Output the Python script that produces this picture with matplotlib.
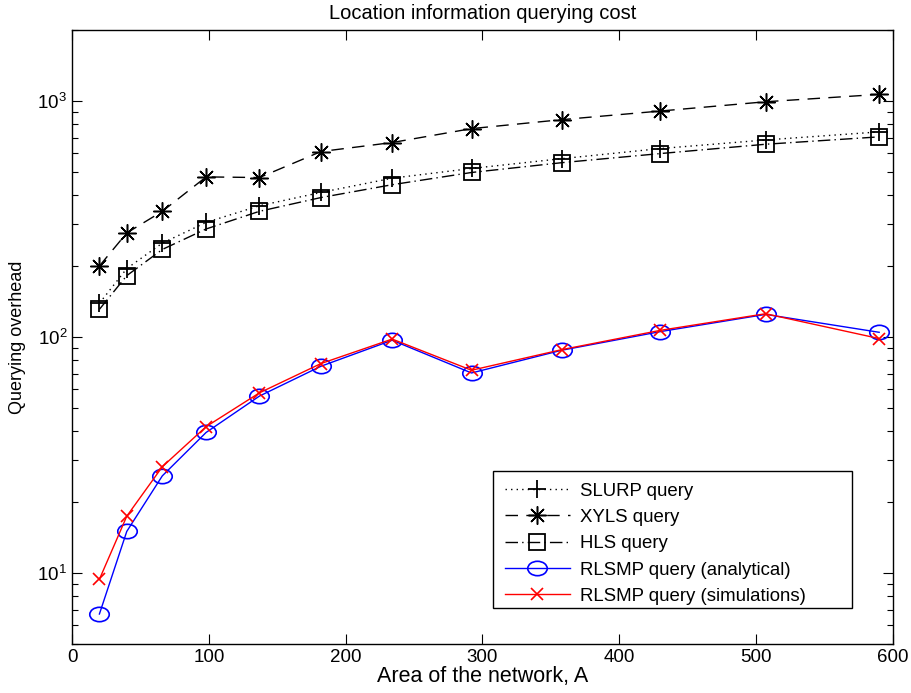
import matplotlib
matplotlib.use("Agg")
import matplotlib.pyplot as plt
from matplotlib.patches import Rectangle
from matplotlib.path import Path
from matplotlib.transforms import Affine2D
from matplotlib.ticker import LogLocator, NullFormatter, FixedLocator

plt.rcParams['font.family'] = ['Liberation Sans', 'DejaVu Sans']
plt.rcParams['mathtext.fontset'] = 'custom'
plt.rcParams['mathtext.rm'] = 'Liberation Sans'

# Network area values
area = [20, 40, 66, 98, 137, 182, 234, 292, 358, 430, 507, 590]

# Querying overhead per protocol
slurp = [139, 195, 250, 306, 360, 410, 471, 518, 570, 629, 684, 740]
xyls = [200, 276, 341, 477, 474, 611, 667, 764, 834, 907, 993, 1067]
hls = [131, 182, 235, 287, 341, 390, 442, 498, 548, 599, 656, 705]
rlsmp_analytical = [6.7, 15.0, 25.8, 39.4, 56.2, 75.2, 96.9, 70.4, 87.9, 105.4, 124.7, 104.7]
rlsmp_simulations = [9.4, 17.4, 28.2, 41.7, 58.0, 77.2, 98.0, 72.3, 88.4, 106.7, 125.5, 98.5]

x_ticks = [0, 100, 200, 300, 400, 500, 600]

# slightly flattened circle marker
ellipse = Path.unit_circle().transformed(Affine2D().scale(1.0, 0.74))

fig = plt.figure(figsize=(9.12, 6.93), dpi=100)
ax = fig.add_axes([0.079, 0.0707, 0.9, 0.886])

lw = 1.0
ax.plot(area, slurp, color='black', lw=lw, linestyle=(0, (1, 3)),
        marker='+', markersize=13, markeredgewidth=1.3, label='SLURP query')
ax.plot(area, xyls, color='black', lw=lw, linestyle=(0, (9, 6)),
        marker=(8, 2, 0), markersize=13, markeredgewidth=1.1,
        label='XYLS query')
ax.plot(area, hls, color='black', lw=lw, linestyle=(0, (9, 3, 1, 3)),
        marker='s', markersize=11, markeredgewidth=1.3, markerfacecolor='none',
        label='HLS query')
ax.plot(area, rlsmp_analytical, color='#0000ff', lw=lw, linestyle='-',
        marker=ellipse, markersize=14, markeredgewidth=1.2, markerfacecolor='none',
        label='RLSMP query (analytical)')
ax.plot(area, rlsmp_simulations, color='#ff0000', lw=lw, linestyle='-',
        marker='x', markersize=9, markeredgewidth=1.2,
        label='RLSMP query (simulations)')

ax.set_yscale('log')
ax.set_xlim(0, 600)
ax.set_ylim(5, 2000)
ax.xaxis.set_major_locator(FixedLocator(x_ticks))
ax.yaxis.set_major_locator(LogLocator(base=10, numticks=10))
ax.yaxis.set_minor_locator(LogLocator(base=10, subs=range(2, 10), numticks=20))
ax.yaxis.set_minor_formatter(NullFormatter())

ax.tick_params(axis='both', which='major', direction='in', length=7, width=0.8,
               top=True, right=True, labelsize=13.5)
ax.tick_params(axis='y', which='minor', direction='in', length=4, width=0.8,
               left=True, right=True)
for s in ax.spines.values():
    s.set_linewidth(1.0)

ax.set_title('Location information querying cost', fontsize=14.5, pad=8)
ax.set_xlabel('Area of the network, A', fontsize=15.5, labelpad=0)
ax.set_ylabel('Querying overhead', fontsize=13, labelpad=8)

leg = ax.legend(loc='upper left', bbox_to_anchor=(0.527, 0.263),
                fontsize=13.4, frameon=False, borderaxespad=0, borderpad=0,
                handlelength=3.5, labelspacing=0.5, handletextpad=0.55)
ax.add_patch(Rectangle((0.513, 0.0586), 0.4375, 0.2231, transform=ax.transAxes,
                       facecolor='none', edgecolor='black', lw=1.0, zorder=4))

fig.savefig('out.png', dpi=100)
